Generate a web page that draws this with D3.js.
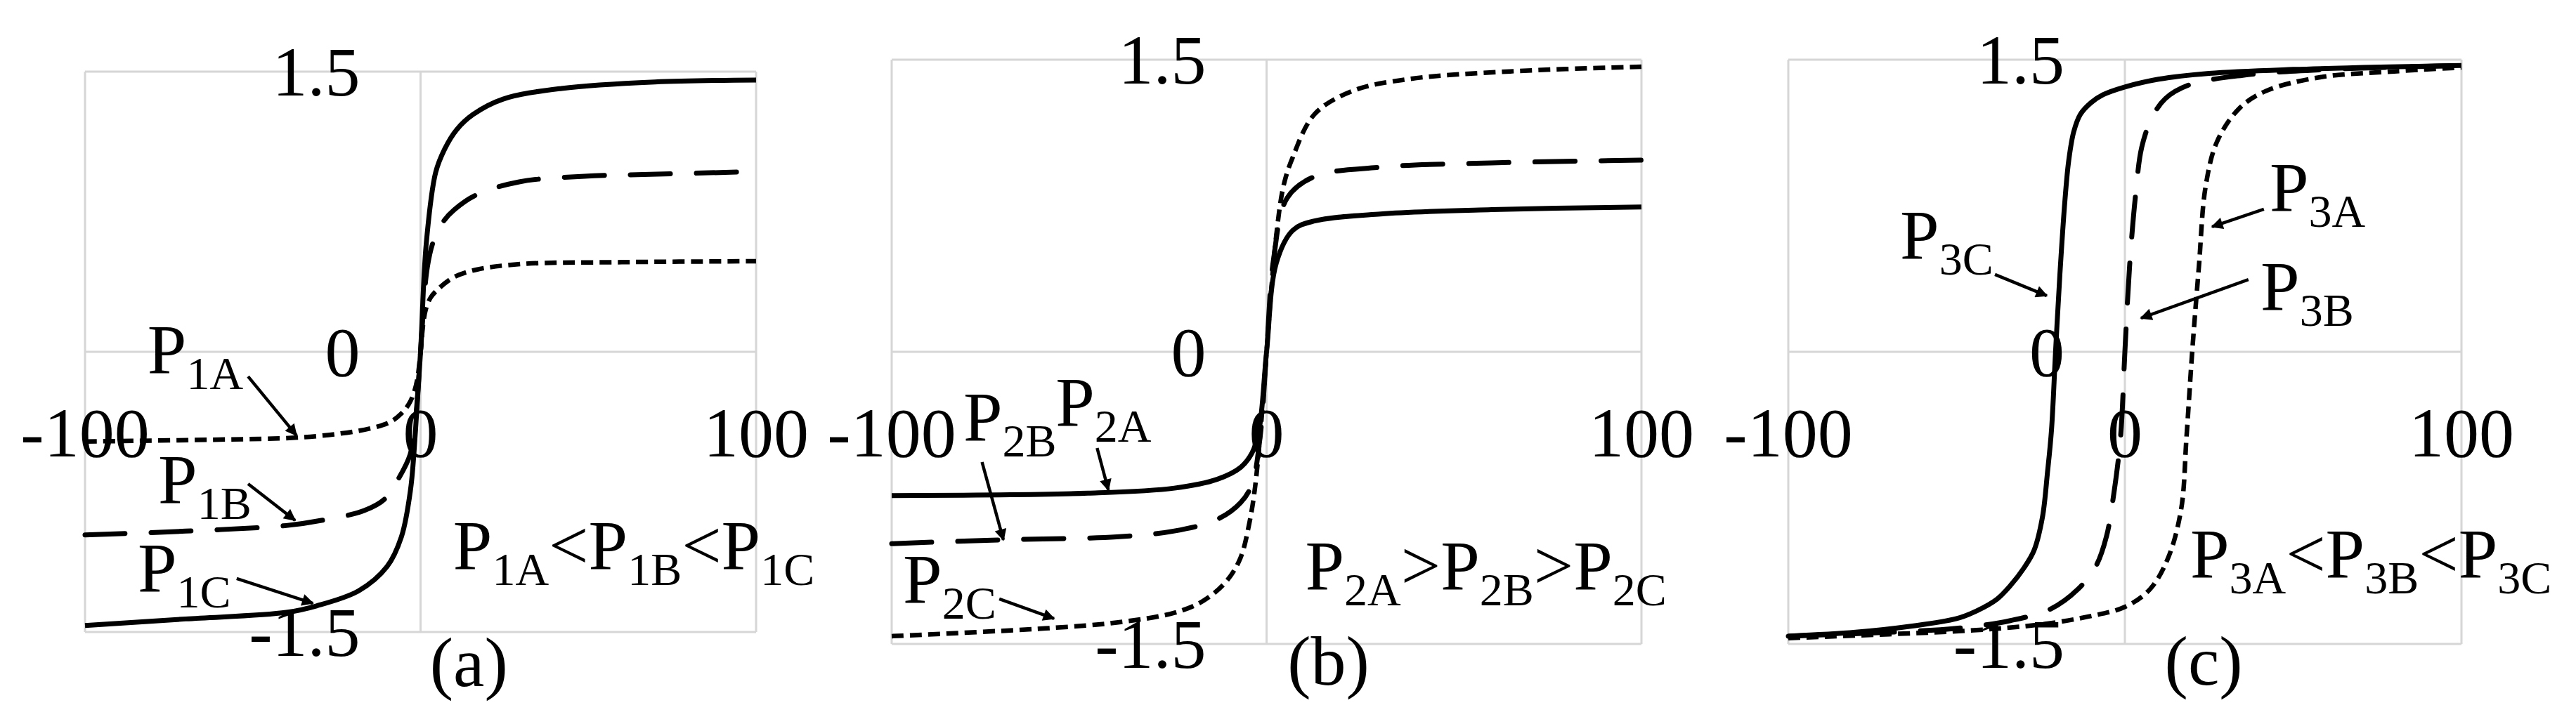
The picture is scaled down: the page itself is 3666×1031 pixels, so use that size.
<!DOCTYPE html>
<html>
<head>
<meta charset="utf-8">
<script src="https://cdnjs.cloudflare.com/ajax/libs/d3/7.8.5/d3.min.js"></script>
<style>
  html, body { margin: 0; padding: 0; background: #fff; }
  svg text { font-family: "Liberation Serif", "Times New Roman", serif; fill: #000; }
</style>
</head>
<body>
<svg id="chart" width="3666" height="1031"></svg>
<script>
var x_ticks = [-100, 0, 100];
var x_tick_text = ["-100", "0", "100"];
var y_ticks = [-1.5, 0, 1.5];
var y_tick_text = ["-1.5", "0", "1.5"];
var panel_names = ["(a)", "(b)", "(c)"];

// panel (a)
var p1a_x = [-100, -60, -37.4, -25, -15, -9, -5.7, -3.5, -2.2, -1, 0, 0.8, 1.6, 3, 5.2, 10, 16.7, 30, 60, 100];
var p1a_y = [-0.48, -0.47, -0.46, -0.44, -0.41, -0.375, -0.33, -0.28, -0.23, -0.15, 0, 0.15, 0.23, 0.29, 0.335, 0.40, 0.44, 0.47, 0.48, 0.485];
var p1b_x = [-100, -70, -40, -28.8, -16.8, -10.8, -6.6, -3.1, -1.5, 0, 2, 4, 6.9, 10, 16.6, 29.4, 48.9, 68.4, 100];
var p1b_y = [-0.98, -0.96, -0.93, -0.90, -0.85, -0.79, -0.68, -0.55, -0.36, 0, 0.45, 0.60, 0.70, 0.76, 0.84, 0.91, 0.94, 0.95, 0.965];
var p1c_x = [-100, -70, -40, -31, -18.5, -10, -5.7, -3, -1.5, 0, 1.7, 4.5, 7.2, 10.8, 15.6, 24.6, 42, 69.8, 100];
var p1c_y = [-1.465, -1.43, -1.395, -1.36, -1.28, -1.15, -0.99, -0.74, -0.42, 0, 0.58, 0.96, 1.086, 1.19, 1.27, 1.353, 1.41, 1.445, 1.455];

// panel (b)
var p2a_x = [-100, -47.6, -24.6, -13.1, -6.9, -3.9, -2.0, 0, 2.6, 7, 12.8, 30.4, 60, 100];
var p2a_y = [-0.738, -0.726, -0.70, -0.654, -0.593, -0.52, -0.40, 0, 0.456, 0.624, 0.672, 0.708, 0.73, 0.744];
var p2b_x = [-100, -70, -40, -24.6, -13.1, -6.9, -3.9, -1.8, 0, 1.9, 5.5, 12.8, 30.4, 60, 100];
var p2b_y = [-0.985, -0.965, -0.95, -0.92, -0.86, -0.774, -0.68, -0.45, 0, 0.48, 0.79, 0.90, 0.948, 0.97, 0.984];
var p2c_x = [-100, -59, -40, -24.6, -17, -10.8, -7, -4.6, -3.1, -1.5, 0, 1.3, 2.6, 4.5, 7, 12.8, 23, 37.7, 65, 100];
var p2c_y = [-1.46, -1.42, -1.39, -1.34, -1.28, -1.18, -1.06, -0.88, -0.70, -0.38, 0, 0.33, 0.60, 0.85, 1.0, 1.22, 1.34, 1.40, 1.44, 1.464];

// panel (c)
var p3a_x = [-100, -70, -45, -25, -11, 0, 7.4, 12.8, 16.7, 18.3, 20, 22, 24, 27.4, 34, 42, 58, 80, 100];
var p3a_y = [-1.47, -1.45, -1.43, -1.40, -1.36, -1.31, -1.22, -1.06, -0.81, -0.44, 0, 0.44, 0.85, 1.08, 1.25, 1.34, 1.41, 1.44, 1.46];
var p3b_x = [-100, -70, -50, -34, -22, -14, -8.6, -5.5, -3.3, -1.3, 0, 1.4, 3.2, 5, 8, 12, 19, 35, 60, 100];
var p3b_y = [-1.46, -1.44, -1.42, -1.38, -1.32, -1.22, -1.10, -0.95, -0.73, -0.44, 0, 0.44, 0.81, 1.05, 1.20, 1.30, 1.37, 1.42, 1.45, 1.47];
var p3c_x = [-100, -80, -64, -50, -44, -38, -34, -30, -27, -24.5, -23, -21.8, -20.6, -19.3, -17.8, -16.7, -15.2, -13.2, -10, -6.5, 0, 10, 25, 50, 100];
var p3c_y = [-1.46, -1.44, -1.41, -1.37, -1.33, -1.27, -1.20, -1.11, -1.02, -0.85, -0.62, -0.40, 0, 0.40, 0.78, 0.98, 1.13, 1.22, 1.28, 1.32, 1.36, 1.40, 1.43, 1.45, 1.47];

var grid_color = "#d6d6d6";
var styles = {
  solid:  { width: 7,   dash: null,    cap: "butt" },
  dashed: { width: 7,   dash: "57,37", cap: "round" },
  dotted: { width: 6.5, dash: "17,9",  cap: "butt" }
};

function zip(xs, ys) { return xs.map(function (v, i) { return [v, ys[i]]; }); }

var panels = [
  {
    left: 121, right: 1076, top: 102, bottom: 900,
    series: [
      { points: zip(p1a_x, p1a_y), style: "dotted" },
      { points: zip(p1b_x, p1b_y), style: "dashed" },
      { points: zip(p1c_x, p1c_y), style: "solid" }
    ],
    // labels: [x, y (data units), parts]
    labels: [
      [-81.4, -0.113, [["P", "1A"]]],
      [-78.2, -0.808, [["P", "1B"]]],
      [-84.3, -1.282, [["P", "1C"]]],
      [9.7, -1.162, [["P", "1A"], ["<P", "1B"], ["<P", "1C"]]]
    ],
    arrows: [
      [-51.4, -0.132, -37.0, -0.447],
      [-51.4, -0.707, -37.4, -0.902],
      [-54.8, -1.214, -32.1, -1.346]
    ],
    name_pos: [14.4, -1.79]
  },
  {
    left: 1269, right: 2336, top: 85, bottom: 917,
    series: [
      { points: zip(p2a_x, p2a_y), style: "solid" },
      { points: zip(p2b_x, p2b_y), style: "dashed" },
      { points: zip(p2c_x, p2c_y), style: "dotted" }
    ],
    labels: [
      [-80.9, -0.453, [["P", "2B"]]],
      [-56.3, -0.379, [["P", "2A"]]],
      [-97.0, -1.287, [["P", "2C"]]],
      [10.3, -1.22, [["P", "2A"], [">P", "2B"], [">P", "2C"]]]
    ],
    arrows: [
      [-45.2, -0.494, -42.2, -0.710],
      [-75.9, -0.566, -70.2, -0.966],
      [-71.3, -1.269, -56.7, -1.370]
    ],
    name_pos: [16.5, -1.71]
  },
  {
    left: 2545, right: 3503, top: 85, bottom: 917,
    series: [
      { points: zip(p3a_x, p3a_y), style: "dotted" },
      { points: zip(p3b_x, p3b_y), style: "dashed" },
      { points: zip(p3c_x, p3c_y), style: "solid" }
    ],
    labels: [
      [-66.8, 0.48, [["P", "3C"]]],
      [43.0, 0.725, [["P", "3A"]]],
      [40.3, 0.216, [["P", "3B"]]],
      [19.4, -1.158, [["P", "3A"], ["<P", "3B"], ["<P", "3C"]]]
    ],
    arrows: [
      [-38.6, 0.397, -23.2, 0.288],
      [41.3, 0.732, 25.9, 0.642],
      [36.7, 0.371, 4.8, 0.173]
    ],
    name_pos: [23.4, -1.71]
  }
];

var svg = d3.select("#chart");
svg.append("rect").attr("width", 3666).attr("height", 1031).attr("fill", "#fff");

svg.append("defs").append("marker")
  .attr("id", "head")
  .attr("viewBox", "0 0 10 10")
  .attr("refX", 9).attr("refY", 5)
  .attr("markerWidth", 30).attr("markerHeight", 17)
  .attr("markerUnits", "userSpaceOnUse")
  .attr("orient", "auto")
  .append("path").attr("d", "M0,0L10,5L0,10z").attr("fill", "#000");

function write_label(g, px, py, parts) {
  var t = g.append("text").attr("x", px).attr("y", py).attr("font-size", 100);
  parts.forEach(function (p, i) {
    t.append("tspan").attr("dy", i == 0 ? 0 : -23).text(p[0]);
    t.append("tspan").attr("font-size", 66).attr("dy", 23).text(p[1]);
  });
}

panels.forEach(function (cfg, k) {
  var x = d3.scaleLinear().domain([-100, 100]).range([cfg.left, cfg.right]);
  var y = d3.scaleLinear().domain([-1.5, 1.5]).range([cfg.bottom, cfg.top]);
  var g = svg.append("g");

  // grid: box edges and zero lines
  g.selectAll(".vgrid").data(x_ticks).join("line")
    .attr("x1", function (d) { return x(d); }).attr("x2", function (d) { return x(d); })
    .attr("y1", cfg.top).attr("y2", cfg.bottom)
    .attr("stroke", grid_color).attr("stroke-width", 3);
  g.selectAll(".hgrid").data(y_ticks).join("line")
    .attr("y1", function (d) { return y(d); }).attr("y2", function (d) { return y(d); })
    .attr("x1", cfg.left).attr("x2", cfg.right)
    .attr("stroke", grid_color).attr("stroke-width", 3);

  // tick labels
  g.selectAll(".ylab").data(y_ticks).join("text")
    .attr("x", x(0) - 86).attr("y", function (d) { return y(d) + 34; })
    .attr("text-anchor", "end").attr("font-size", 100)
    .text(function (d, i) { return y_tick_text[i]; });
  g.selectAll(".xlab").data(x_ticks).join("text")
    .attr("x", function (d) { return x(d); }).attr("y", y(0) + 149)
    .attr("text-anchor", "middle").attr("font-size", 100)
    .text(function (d, i) { return x_tick_text[i]; });

  // curves
  var line = d3.line()
    .x(function (d) { return x(d[0]); })
    .y(function (d) { return y(d[1]); })
    .curve(d3.curveCatmullRom.alpha(0.5));
  cfg.series.forEach(function (s) {
    var st = styles[s.style];
    g.append("path").datum(s.points).attr("d", line)
      .attr("fill", "none").attr("stroke", "#000")
      .attr("stroke-width", st.width)
      .attr("stroke-linecap", st.cap)
      .attr("stroke-dasharray", st.dash);
  });

  // annotations
  cfg.labels.forEach(function (l) { write_label(g, x(l[0]), y(l[1]), l[2]); });
  cfg.arrows.forEach(function (a) {
    g.append("line")
      .attr("x1", x(a[0])).attr("y1", y(a[1]))
      .attr("x2", x(a[2])).attr("y2", y(a[3]))
      .attr("stroke", "#000").attr("stroke-width", 4.5)
      .attr("marker-end", "url(#head)");
  });

  g.append("text")
    .attr("x", x(cfg.name_pos[0])).attr("y", y(cfg.name_pos[1]))
    .attr("text-anchor", "middle").attr("font-size", 100)
    .text(panel_names[k]);
});
</script>
</body>
</html>
